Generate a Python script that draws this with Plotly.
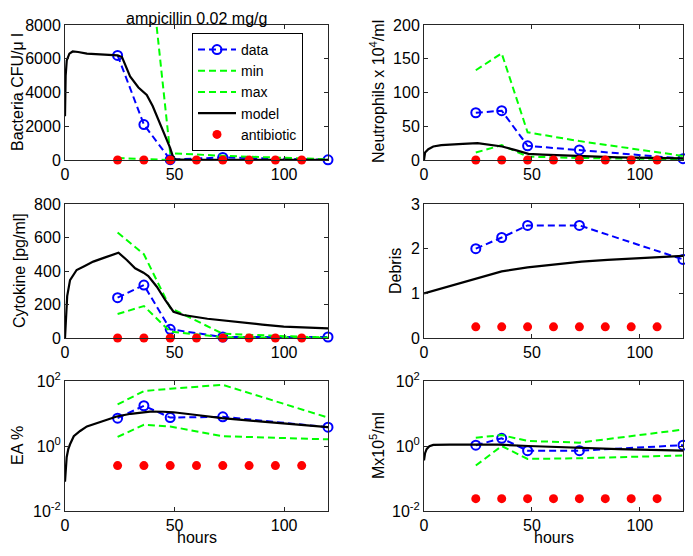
import plotly.graph_objects as go

# ---------------- data ----------------
t_data = [24, 36, 48, 72, 120]
t_ab = [24, 36, 48, 60, 72, 84, 96, 108]

bact_data = [6200, 2100, 20, 150, 10]
bact_min = [120, 40, 0, 0, 0]
bact_max = [20000, 15000, 400, 250, 40]
bact_t_model = [0, 0.3, 0.8, 2, 3.5, 6, 10, 15, 20, 24, 26, 29.7, 33.5, 37.3, 40, 43.4, 46, 48, 49.5, 51, 60, 80, 100, 120]
bact_model = [2600, 5000, 5900, 6300, 6430, 6400, 6300, 6250, 6220, 6200, 6100, 4950, 4300, 3850, 3200, 2170, 1300, 700, 100, 20, 10, 5, 5, 5]
bact_ab = [0] * 8

neut_data = [70, 73, 21, 15, 2]
neut_min = [11, 22, 5, 3, 1]
neut_max = [133, 158, 41, 28, 6]
neut_t_model = [0, 0.5, 2, 4.3, 8, 12, 18, 24.8, 30, 36.2, 42, 48.4, 55, 70, 90, 120]
neut_model = [0, 11, 16, 20, 22, 23, 24, 25, 23, 20, 15, 9, 8, 6, 4, 2.5]
neut_ab = [0] * 8

cyto_data = [241, 316, 52, 6, 6]
cyto_min = [143, 191, 38, 5, 1]
cyto_max = [630, 500, 180, 25, 2]
cyto_t_model = [0, 0.5, 1, 2.3, 5.3, 9, 12.9, 18, 24.4, 28.2, 32, 35.8, 38, 41.9, 45.7, 49.5, 54, 65, 77, 90, 99.8, 110, 120]
cyto_model = [0, 147, 250, 346, 406, 430, 456, 480, 509, 466, 416, 390, 370, 306, 227, 157, 137, 115, 97, 80, 68, 62, 58]
cyto_ab = [0] * 8

deb_data = [2.0, 2.25, 2.52, 2.52, 1.76]
deb_t_model = [0, 12, 24, 36, 48, 60, 73, 85, 96, 108, 120]
deb_model = [1.0, 1.16, 1.33, 1.49, 1.58, 1.65, 1.71, 1.75, 1.78, 1.81, 1.84]
deb_ab = [0.25] * 8

ea_data = [7.2, 17.3, 7.5, 7.9, 3.8]
ea_min = [1.9, 4.5, 4.0, 2.0, 1.6]
ea_max = [19, 49, 58, 76, 7.5]
ea_t_model = [0, 0.3, 0.76, 1.5, 2.3, 4, 6.9, 10, 14.5, 19, 23.6, 30, 38.8, 45, 49.5, 60, 71.6, 90, 105, 120]
ea_model = [0.08, 0.25, 0.45, 0.8, 1.13, 2.0, 2.9, 4.0, 5.1, 6.5, 8.1, 9.8, 11.4, 11.3, 10.9, 9.0, 7.2, 5.6, 4.6, 3.8]
ea_ab = [0.25] * 8

mx_data = [1.06, 1.72, 0.72, 0.72, 1.06]
mx_min = [0.25, 1.0, 0.40, 0.42, 0.51]
mx_max = [1.8, 2.17, 1.43, 1.27, 3.2]
mx_t_model = [0, 0.5, 1.2, 2.5, 4.3, 8, 11.9, 20, 34.7, 48.4, 60, 72.8, 90, 105, 120]
mx_model = [0.36, 0.6, 0.8, 0.98, 1.08, 1.1, 1.1, 1.1, 1.1, 1.0, 0.93, 0.87, 0.8, 0.76, 0.72]
mx_ab = [0.024] * 8

# ---------------- figure ----------------
OFF = 8  # page body margin
W, H = 693 - OFF, 556 - 2 * OFF
FONT = "Liberation Sans, Arial, sans-serif"
FS = 16
BLUE = "#0000ff"
GREEN = "#00ff00"
RED = "#ff0000"
DASH = "7px,4px"

cols = [(65, 328), (424, 683)]
rows = [(25, 160), (204, 338), (381, 511)]

def px2x(px):
    return (px - OFF) / W

def py2y(py):
    return 1 - (py - OFF) / H

def xdom(c):
    return [px2x(cols[c][0]), px2x(cols[c][1])]

def ydom(r):
    return [py2y(rows[r][1]), py2y(rows[r][0])]

fig = go.Figure()

panels = [
    (0, 0, bact_data, bact_min, bact_max, bact_t_model, bact_model, bact_ab, False, [0, 8000], [0, 2000, 4000, 6000, 8000], None),
    (0, 1, neut_data, neut_min, neut_max, neut_t_model, neut_model, neut_ab, False, [0, 200], [0, 50, 100, 150, 200], None),
    (1, 0, cyto_data, cyto_min, cyto_max, cyto_t_model, cyto_model, cyto_ab, False, [0, 800], [0, 200, 400, 600, 800], None),
    (1, 1, deb_data, None, None, deb_t_model, deb_model, deb_ab, False, [0, 3], [0, 1, 2, 3], None),
    (2, 0, ea_data, ea_min, ea_max, ea_t_model, ea_model, ea_ab, True, [-2, 2], [0.01, 1, 100], ["10<sup>-2</sup>", "10<sup>0</sup>", "10<sup>2</sup>"]),
    (2, 1, mx_data, mx_min, mx_max, mx_t_model, mx_model, mx_ab, True, [-2, 2], [0.01, 1, 100], ["10<sup>-2</sup>", "10<sup>0</sup>", "10<sup>2</sup>"]),
]

layout = {}
for i, (r, c, d, mn, mx, tm, m, ab, lg, yr, tv, tt) in enumerate(panels):
    n = i + 1
    xa = "x" if n == 1 else f"x{n}"
    ya = "y" if n == 1 else f"y{n}"
    first = (i == 0)
    fig.add_trace(go.Scatter(x=t_data, y=d, xaxis=xa, yaxis=ya, mode="lines+markers",
                             name="data", showlegend=first, cliponaxis=False,
                             line=dict(color=BLUE, width=2, dash=DASH),
                             marker=dict(symbol="circle-open", size=9, color=BLUE, line=dict(width=2, color=BLUE))))
    if mn is not None:
        fig.add_trace(go.Scatter(x=t_data, y=mn, xaxis=xa, yaxis=ya, mode="lines", name="min",
                                 showlegend=first, line=dict(color=GREEN, width=2, dash=DASH)))
        fig.add_trace(go.Scatter(x=t_data, y=mx, xaxis=xa, yaxis=ya, mode="lines", name="max",
                                 showlegend=first, line=dict(color=GREEN, width=2, dash=DASH)))
    fig.add_trace(go.Scatter(x=tm, y=m, xaxis=xa, yaxis=ya, mode="lines", name="model",
                             showlegend=first, line=dict(color="black", width=2.2)))
    fig.add_trace(go.Scatter(x=t_ab, y=ab, xaxis=xa, yaxis=ya, mode="markers", name="antibiotic",
                             showlegend=first, cliponaxis=False,
                             marker=dict(symbol="circle", size=9, color=RED)))

    axcommon = dict(showline=True, linecolor="#262626", linewidth=1, mirror="ticks",
                    ticks="inside", ticklen=4, tickcolor="#262626", showgrid=False,
                    zeroline=False, automargin=False,
                    tickfont=dict(family=FONT, size=FS, color="black"))
    xkey = "xaxis" if n == 1 else f"xaxis{n}"
    ykey = "yaxis" if n == 1 else f"yaxis{n}"
    layout[xkey] = dict(domain=xdom(c), anchor=ya, range=[0, 120], tickvals=[0, 50, 100], **axcommon)
    yd = dict(domain=ydom(r), anchor=xa, range=yr, tickvals=tv, **axcommon)
    if lg:
        yd["type"] = "log"
        yd["ticktext"] = tt
    layout[ykey] = yd

fig.update_layout(**layout)

ytitles = [
    ("Bacteria CFU/\u03bc l", 17, 92),
    ("Neutrophils x 10<sup>4</sup>/ml", 377, 92),
    ("Cytokine [pg/ml]", 19, 271),
    ("Debris", 395, 271),
    ("EA %", 17, 446),
    ("Mx10<sup>5</sup>/ml", 377, 446),
]
annots = []
for txt, px, py in ytitles:
    annots.append(dict(text=txt, x=px2x(px), y=py2y(py), xref="paper", yref="paper",
                       textangle=-90, showarrow=False, xanchor="center", yanchor="middle",
                       font=dict(family=FONT, size=FS, color="black")))
for c in range(2):
    annots.append(dict(text="hours", x=px2x((cols[c][0] + cols[c][1]) / 2), y=0,
                       xref="paper", yref="paper", showarrow=False, xanchor="center", yanchor="bottom",
                       font=dict(family=FONT, size=FS, color="black")))
annots.append(dict(text="ampicillin 0.02 mg/g", x=px2x((cols[0][0] + cols[0][1]) / 2), y=1,
                   xref="paper", yref="paper", showarrow=False, xanchor="center", yanchor="top",
                   font=dict(family=FONT, size=FS, color="black")))

fig.update_layout(
    width=W, height=H,
    margin=dict(l=0, r=0, t=0, b=0),
    paper_bgcolor="white", plot_bgcolor="white",
    annotations=annots,
    showlegend=True,
    legend=dict(x=px2x(192), y=py2y(33), xanchor="left", yanchor="top",
                bgcolor="white", bordercolor="black", borderwidth=1,
                font=dict(family=FONT, size=14, color="black"),
                tracegroupgap=0, itemwidth=38),
    font=dict(family=FONT, size=FS, color="black"),
)

fig.write_html("out.html")
